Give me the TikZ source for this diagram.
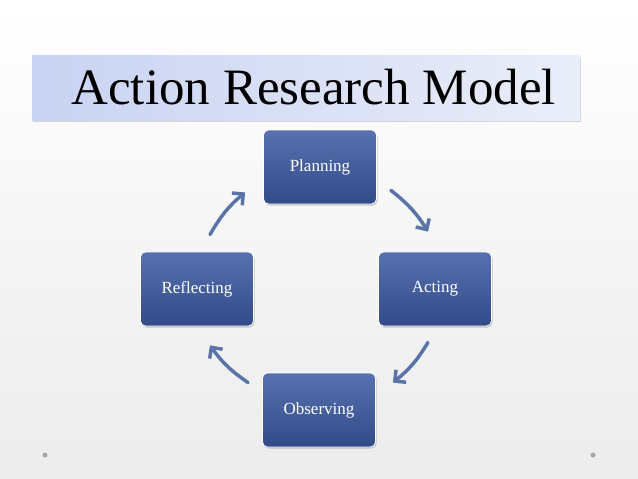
\documentclass[tikz,border=0pt]{standalone}
\usepackage{fontspec}
\setmainfont{Liberation Serif}
\usetikzlibrary{arrows.meta,calc,shadows}
\definecolor{boxblue}{HTML}{3A58A0}
\definecolor{arrblue}{HTML}{5B74A8}
\definecolor{banL}{HTML}{C9D3F2}
\definecolor{banR}{HTML}{EAEEF9}
\tikzset{
  stepbox/.style={draw=white,line width=0.8pt,rounded corners=5pt,minimum width=113pt,minimum height=74pt,
    top color=boxblue!85!white,bottom color=boxblue!85!black,text=white,font=\fontsize{17}{19}\selectfont,
    drop shadow={shadow xshift=1pt,shadow yshift=-1.5pt,opacity=0.4}},
  cyc/.style={draw=arrblue,line width=3.5pt,line cap=round,-{Straight Barb[length=8pt,width=16pt,line width=3.5pt]}}
}
\begin{document}
\begin{tikzpicture}[x=1pt,y=-1pt]
\shade[top color=white,bottom color=gray!15] (0,0) rectangle (638,479);
\useasboundingbox (0,0) rectangle (638,479);
\node[minimum width=548pt,minimum height=65pt,anchor=north west,left color=banL,right color=banR,
  drop shadow={shadow xshift=1pt,shadow yshift=-2pt,opacity=0.3}] (banner) at (32,55) {};
\node[anchor=west,font=\fontsize{51}{54}\selectfont] (title) at (68,87) {Action Research Model};
\node[stepbox] (p) at (320,167) {Planning};
\node[stepbox] (a) at (435,289) {Acting};
\node[stepbox] (o) at (319,410) {Observing};
\node[stepbox] (r) at (197,289) {Reflecting};
\draw[cyc] ($(p.south east)+(14,-14)$) to[bend left=10] ($(a.north)+(-7,-20)$);
\draw[cyc] ($(a.south)+(-7,16)$) to[bend left=10] ($(o.north east)+(17,10)$);
\draw[cyc] ($(o.north west)+(-14,10)$) to[bend left=10] ($(r.south)+(13,19)$);
\draw[cyc] ($(r.north)+(13,-17)$) to[bend left=10] ($(p.south west)+(-18,-12)$);
\fill[gray!70] (45,455) coordinate (d1) circle (2.5);
\fill[gray!70] (593,455) coordinate (d2) circle (2.5);
\end{tikzpicture}
\end{document}
